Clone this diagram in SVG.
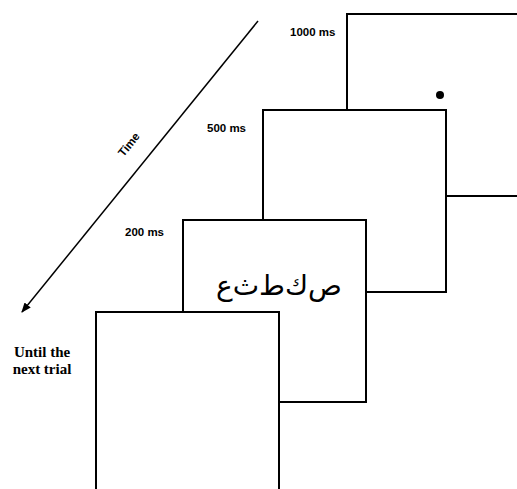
<svg xmlns="http://www.w3.org/2000/svg" width="517" height="489" viewBox="0 0 517 489">
<defs>
<style>
.scr{fill:#fff;stroke:#000;stroke-width:2}
.lbl{font-family:"Liberation Sans",Arial,sans-serif;font-weight:bold;font-size:11.5px;fill:#000}
.trial{font-family:"Liberation Serif","Times New Roman",serif;font-weight:bold;font-size:15px;fill:#000}
</style>
<marker id="ah" markerWidth="10" markerHeight="8" refX="9" refY="4" orient="auto" markerUnits="userSpaceOnUse">
<path d="M0,0 L10,4 L0,8 Z" fill="#000"/>
</marker>
</defs>
<rect width="517" height="489" fill="#fff"/>
<g id="screen-1000">
<rect class="scr" x="347" y="14" width="190" height="182"/>
<circle cx="440" cy="95" r="4" fill="#000"/>
<text class="lbl" x="290" y="36">1000 ms</text>
</g>
<g id="screen-500">
<rect class="scr" x="263" y="110" width="183" height="182"/>
<text class="lbl" x="207" y="132">500 ms</text>
</g>
<g id="screen-200">
<rect class="scr" x="183" y="220" width="183" height="182"/>
<text x="279" y="295" text-anchor="middle" font-family="'DejaVu Sans','Noto Sans',sans-serif" font-size="28" fill="#000">ص‌ك‌ط‌ث‌ع</text>
<text class="lbl" x="125" y="236">200 ms</text>
</g>
<g id="screen-next">
<rect class="scr" x="96" y="312" width="183" height="190"/>
<text class="trial" x="42" y="357" text-anchor="middle">Until the</text>
<text class="trial" x="42" y="374" text-anchor="middle">next trial</text>
</g>
<g id="connectors">
<line x1="258" y1="21" x2="22" y2="312" stroke="#000" stroke-width="1.5" marker-end="url(#ah)"/>
<text class="lbl" transform="translate(132,147) rotate(-51)" text-anchor="middle">Time</text>
</g>
</svg>
